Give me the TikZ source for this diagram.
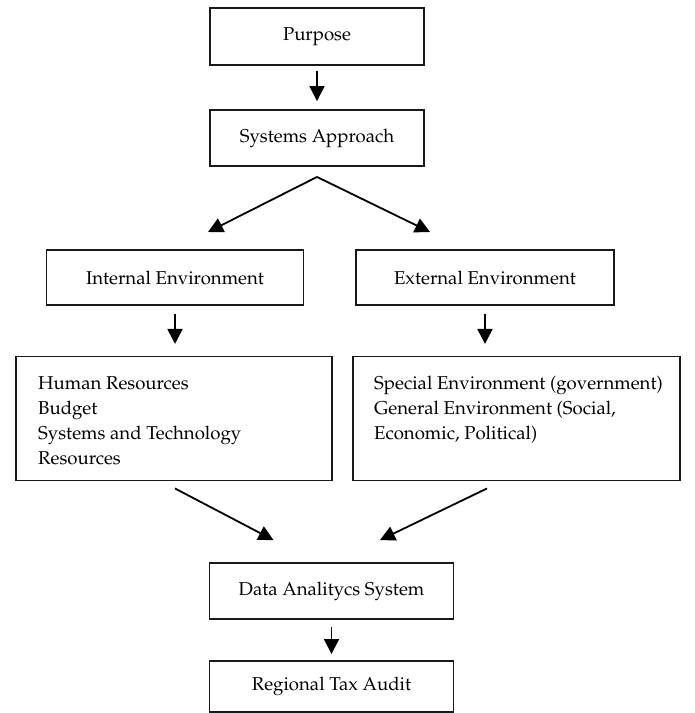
\documentclass[tikz,border=0pt]{standalone}
\usepackage[T1]{fontenc}
\usepackage{mathpazo}
\usetikzlibrary{arrows.meta,calc}
\begin{document}
\begin{tikzpicture}[x=1pt,y=-1pt,
  box/.style={draw=black!90, line width=1.9pt, inner sep=0pt, font=\fontsize{18.6}{25}\selectfont},
  arr/.style={line width=1.8pt, -{Triangle[length=15pt,width=15pt]}},
  txt/.style={inner sep=0pt, align=left, anchor=north west, font=\fontsize{18.6}{25}\selectfont}]
\useasboundingbox[fill=white] (0,0) rectangle (695,713);
\node[box, minimum width=214pt, minimum height=57pt] (purpose) at (317,36.5) {Purpose};
\node[box, minimum width=214pt, minimum height=56pt] (sys) at (317,138) {Systems Approach};
\node[box, minimum width=257pt, minimum height=55pt] (int) at (175,277.5) {Internal Environment};
\node[box, minimum width=258pt, minimum height=55pt] (ext) at (485,277.5) {External Environment};
\node[box, minimum width=316pt, minimum height=124pt] (hr) at (174,418.5) {};
\node[box, minimum width=327pt, minimum height=124pt] (env) at (516.5,418.5) {};
\node[txt] (hrtext) at (38,376) {Human Resources\\Budget\\Systems and Technology\\Resources};
\node[txt] (envtext) at (374,376) {Special Environment (government)\\General Environment (Social,\\Economic, Political)};
\node[box, minimum width=244pt, minimum height=56pt] (data) at (331.5,591) {Data Analitycs System};
\node[box, minimum width=244pt, minimum height=51pt] (reg) at (331.5,686.5) {Regional Tax Audit};
\coordinate (ltip) at (208,232);
\coordinate (rtip) at (430,232);
\draw[arr] ([yshift=-5pt]purpose.south) -- ([yshift=8pt]sys.north);
\draw[arr] ([yshift=-10pt]sys.south) -- (ltip);
\draw[arr] ([yshift=-10pt]sys.south) -- (rtip);
\draw[arr] ([yshift=-8pt]int.south) -- ++(0,30);
\draw[arr] ([yshift=-8pt]ext.south) -- ++(0,30);
\draw[arr] ($(hr.south)+(1,7)$) -- ($(data.north)+(-58,-22)$);
\draw[arr] ($(env.south)+(-29.5,7)$) -- ($(data.north)+(48.5,-22)$);
\draw[arr] ([yshift=-7pt]data.south) -- ([yshift=6pt]reg.north);
\end{tikzpicture}
\end{document}
